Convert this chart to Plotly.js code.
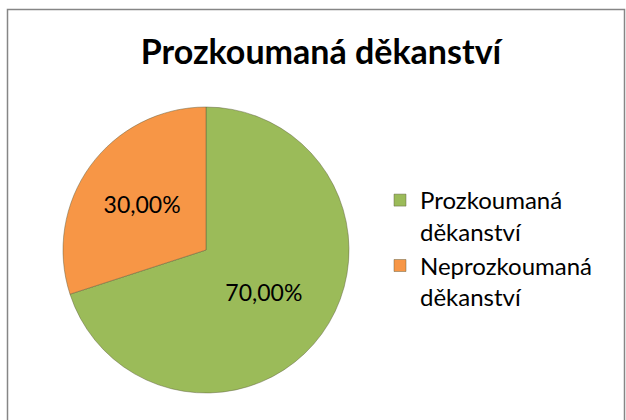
<!DOCTYPE html>
<html>
<head>
<meta charset="utf-8">
<script src="https://cdn.plot.ly/plotly-3.0.1.min.js"></script>
<style>html,body{margin:0;padding:0;background:#fff;}#chart{width:626px;height:420px;}</style>
</head>
<body>
<div id="chart"></div>
<script>
const labels = ["Prozkoumaná<br>děkanství", "Neprozkoumaná<br>děkanství"];
const values = [70, 30];
const colors = ["#9bbb59", "#f79646"];
const titleText = "Prozkoumaná děkanství";

const data = [{
  type: "pie",
  labels: labels,
  values: values,
  sort: false,
  direction: "clockwise",
  rotation: 0,
  marker: {colors: colors, line: {color: "rgba(90,90,60,0.45)", width: 1}},
  texttemplate: "%{percent:.2%}",
  textposition: "inside",
  insidetextorientation: "horizontal",
  textfont: {family: "Lato, sans-serif", size: 23, color: "#000"},
  hoverinfo: "label+percent",
  domain: {x: [63/626, 349/626], y: [(420-393)/420, (420-107)/420]}
}];

const layout = {
  width: 626, height: 420,
  margin: {l: 0, r: 0, t: 0, b: 0},
  paper_bgcolor: "#fff",
  separators: ", ",
  font: {family: "Lato, sans-serif", color: "#000"},
  title: {
    text: "<b>" + titleText + "</b>",
    font: {family: "Lato, sans-serif", size: 34, color: "#000"},
    x: 321/626, xanchor: "center",
    y: 1 - 52/420, yanchor: "middle",
    xref: "paper", yref: "container"
  },
  showlegend: true,
  legend: {
    x: 380/626, xanchor: "left",
    y: 1 - 178/420, yanchor: "top",
    valign: "top",
    font: {family: "Lato, sans-serif", size: 24, color: "#000"},
    bgcolor: "rgba(0,0,0,0)",
    itemwidth: 30
  },
  shapes: [{
    type: "rect", xref: "paper", yref: "paper",
    x0: 7.5/626, x1: 624.5/626, y0: -0.05, y1: 1 - 9.5/420,
    line: {color: "#868686", width: 1.5}
  }]
};

Plotly.newPlot("chart", data, layout, {displayModeBar: false, staticPlot: true});
</script>
</body>
</html>
